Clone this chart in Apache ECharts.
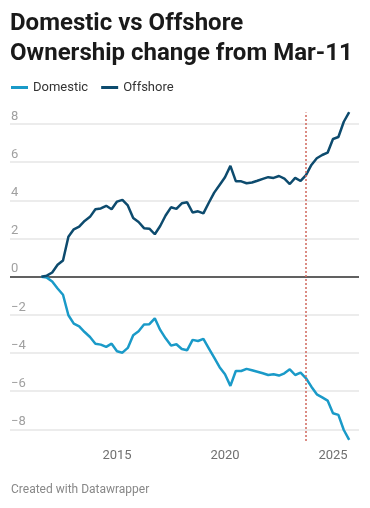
<!DOCTYPE html>
<html>
<head>
<meta charset="utf-8">
<script src="https://cdn.jsdelivr.net/npm/echarts@6/dist/echarts.min.js"></script>
<style>
  html, body { margin: 0; padding: 0; background: #fff; }
  #chart { width: 370px; height: 508px; }
</style>
</head>
<body>
<div id="chart"></div>
<script>
// Quarterly observations (decimal years)
const dates = [
  2011.50, 2011.75, 2012.00, 2012.25, 2012.50, 2012.75, 2013.00, 2013.25, 2013.50, 2013.75,
  2014.00, 2014.25, 2014.50, 2014.75, 2015.00, 2015.25, 2015.50, 2015.75, 2016.00, 2016.25,
  2016.50, 2016.75, 2017.00, 2017.25, 2017.50, 2017.75, 2018.00, 2018.25, 2018.50, 2018.75,
  2019.00, 2019.25, 2019.50, 2019.75, 2020.00, 2020.25, 2020.50, 2020.75, 2021.00, 2021.25,
  2021.50, 2021.75, 2022.00, 2022.25, 2022.50, 2022.75, 2023.00, 2023.25, 2023.50, 2023.75,
  2024.00, 2024.25, 2024.50, 2024.75, 2025.00, 2025.25, 2025.50, 2025.75
];
const domestic = [
  0, -0.05, -0.25, -0.62, -0.95, -2.02, -2.46, -2.60, -2.90, -3.16,
  -3.51, -3.56, -3.68, -3.51, -3.91, -3.98, -3.73, -3.07, -2.86, -2.51,
  -2.49, -2.18, -2.79, -3.23, -3.61, -3.54, -3.79, -3.85, -3.31, -3.37,
  -3.26, -3.75, -4.24, -4.74, -5.11, -5.72, -4.94, -4.94, -4.83, -4.90,
  -4.98, -5.06, -5.15, -5.11, -5.18, -5.06, -4.85, -5.15, -5.03, -5.32,
  -5.76, -6.16, -6.32, -6.49, -7.15, -7.24, -8.03, -8.55
];
const offshore = [
  0, 0.05, 0.22, 0.62, 0.85, 2.09, 2.48, 2.62, 2.92, 3.13,
  3.53, 3.57, 3.71, 3.53, 3.93, 4.02, 3.73, 3.07, 2.86, 2.54,
  2.51, 2.22, 2.65, 3.20, 3.63, 3.55, 3.84, 3.89, 3.36, 3.42,
  3.31, 3.87, 4.40, 4.80, 5.20, 5.80, 5.00, 4.99, 4.89, 4.93,
  5.02, 5.12, 5.21, 5.17, 5.27, 5.13, 4.85, 5.17, 5.01, 5.32,
  5.85, 6.20, 6.37, 6.49, 7.21, 7.31, 8.11, 8.61
];
const yTicks = [-8, -6, -4, -2, 0, 2, 4, 6, 8];
const xTicks = [2015, 2020, 2025];
const markerDate = 2023.75;
const seriesNames = ['Domestic', 'Offshore'];

const FONT = 'Roboto';
const chart = echarts.init(document.getElementById('chart'), null, { renderer: 'canvas' });
chart.setOption({
  animation: false,
  backgroundColor: '#ffffff',
  title: {
    text: 'Domestic vs Offshore\nOwnership change from Mar-11',
    left: 10, top: 9, padding: 0,
    textStyle: { fontFamily: FONT, fontSize: 24, fontWeight: 700, lineHeight: 30, color: '#1a1a1a' }
  },
  legend: {
    left: 11, top: 81, padding: 0,
    itemWidth: 17, itemHeight: 3, itemGap: 13,
    icon: 'rect',
    textStyle: { fontFamily: FONT, fontSize: 13, color: '#333333' },
    data: seriesNames
  },
  graphic: [{
    type: 'text', left: 11, top: 484,
    style: { text: 'Created with Datawrapper', fontFamily: FONT, fontSize: 12, fill: '#888888' }
  }],
  grid: { left: 10, right: 11, top: 112.4, height: 328.5 },
  xAxis: {
    type: 'value', min: 2010.046, max: 2026.204,
    axisLine: { show: false },
    axisTick: { show: false, customValues: xTicks },
    splitLine: { show: false },
    axisLabel: {
      customValues: xTicks, margin: 8,
      fontFamily: FONT, fontSize: 13, color: '#707070',
      formatter: v => String(Math.round(v))
    }
  },
  yAxis: {
    type: 'value', min: -8.6, max: 8.6,
    axisLine: { show: false },
    axisTick: { show: false, customValues: yTicks },
    splitLine: { show: true, lineStyle: { color: '#e6e6e6', width: 1.5 } },
    axisLabel: {
      customValues: yTicks, inside: true, margin: 1,
      align: 'left', verticalAlign: 'bottom', padding: [0, 0, 1, 0],
      fontFamily: FONT, fontSize: 13, color: '#a0a0a0',
      formatter: v => (v < 0 ? '\u2212' + Math.abs(v) : String(v))
    }
  },
  series: [
    {
      name: seriesNames[0], type: 'line', showSymbol: false, symbol: 'none',
      color: '#1a9ac8',
      lineStyle: { width: 2.5, color: '#1a9ac8' },
      data: dates.map((d, i) => [d, domestic[i]]),
      z: 3,
      markLine: {
        silent: true, symbol: 'none', label: { show: false },
        lineStyle: { color: '#333333', width: 1.5, type: 'solid' },
        data: [{ yAxis: 0 }],
        z: 2
      }
    },
    {
      name: seriesNames[1], type: 'line', showSymbol: false, symbol: 'none',
      color: '#0d4b6e',
      lineStyle: { width: 2.5, color: '#0d4b6e' },
      data: dates.map((d, i) => [d, offshore[i]]),
      z: 4,
      markLine: {
        silent: true, symbol: 'none', label: { show: false },
        lineStyle: { color: '#d0675c', width: 1.5, type: [2, 2] },
        data: [{ xAxis: markerDate }]
      }
    }
  ]
});
</script>
</body>
</html>
